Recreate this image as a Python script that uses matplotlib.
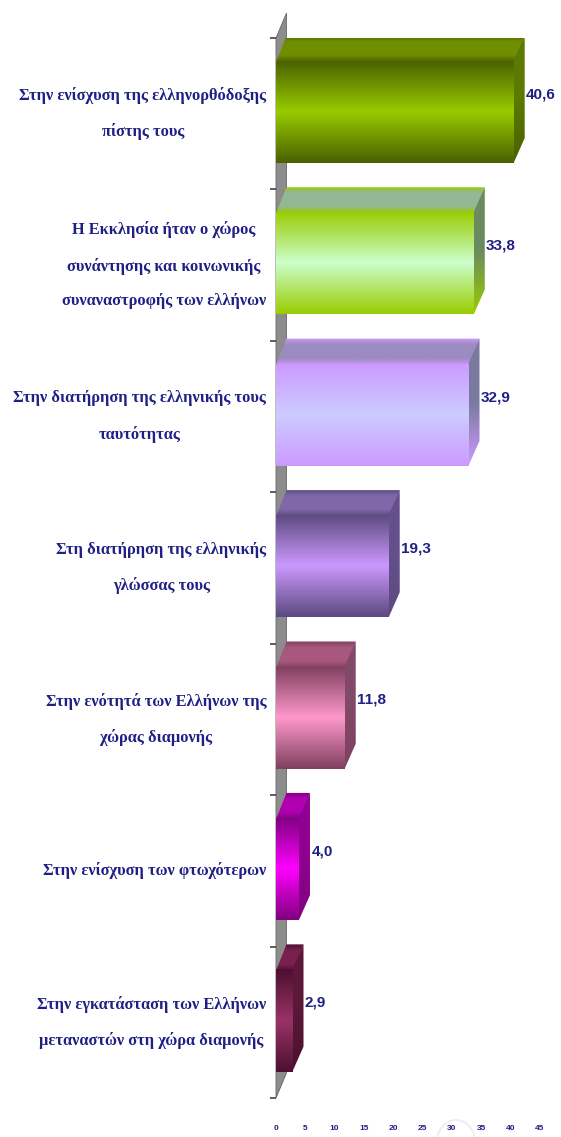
"""Οριζόντιο ψευδο-3Δ ραβδόγραμμα: ρόλος της Εκκλησίας (%)."""
import numpy as np
import matplotlib
matplotlib.use("Agg")
import matplotlib.pyplot as plt
from matplotlib.colors import LinearSegmentedColormap
from matplotlib.patches import Polygon, Arc

plt.rcParams["font.family"] = ["Liberation Serif", "DejaVu Serif"]

labels = [
    "Στην ενίσχυση της ελληνορθόδοξης\nπίστης τους",
    "Η Εκκλησία ήταν ο χώρος\nσυνάντησης και κοινωνικής\nσυναναστροφής των ελλήνων",
    "Στην διατήρηση της ελληνικής τους\nταυτότητας",
    "Στη διατήρηση της ελληνικής\nγλώσσας τους",
    "Στην ενότητά των Ελλήνων της\nχώρας διαμονής",
    "Στην ενίσχυση των φτωχότερων",
    "Στην εγκατάσταση των Ελλήνων\nμεταναστών στη χώρα διαμονής",
]
values = [40.6, 33.8, 32.9, 19.3, 11.8, 4.0, 2.9]
value_labels = ["40,6", "33,8", "32,9", "19,3", "11,8", "4,0", "2,9"]
x_ticks = [0, 5, 10, 15, 20, 25, 30, 35, 40, 45]

# χρώματα: άκρη, κέντρο (μπροστινή όψη), πάνω όψη, πλαϊνή όψη
edge_cols = ["#4a6000", "#99cc00", "#cc99ff", "#5c4a80", "#80405f", "#800080", "#4d1030"]
mid_cols = ["#99cc00", "#ccffcc", "#ccccff", "#cc99ff", "#ff99cc", "#ff00ff", "#993366"]
top_cols = ["#6f8f00", "#94b894", "#9b8bc0", "#8068a8", "#a8587f", "#b000b0", "#7a2050"]
side_cols = ["#5c7a00", "#6b8a60", "#7a7a9f", "#64508c", "#804a68", "#900090", "#5c1838"]

W, H = 561, 1137
NAVY = "#1f1f85"
SANS = ["Liberation Sans", "DejaVu Sans"]

fig = plt.figure(figsize=(W / 100, H / 100), dpi=100, facecolor="white")
ax = fig.add_axes([276 / W, 1 - 1098 / H, (540 - 276) / W, (1098 - 38) / H])
ax.set_facecolor("none")
for s in ax.spines.values():
    s.set_visible(False)

DX = 10.5 / (264 / 45)   # βάθος σε μονάδες x
DY = 25 / (1060 / 7)     # βάθος σε μονάδες κατηγορίας
BAR_H = 0.675
OFF = -0.012
SEAM = 0.008             # να μη φαίνεται λευκή ραφή ανάμεσα στις όψεις


def shaded(poly, extent, cols, z):
    cmap = LinearSegmentedColormap.from_list("f", cols)
    grad = np.linspace(0, 1, 128).reshape(-1, 1)
    im = ax.imshow(grad, cmap=cmap, extent=extent, origin="upper", aspect="auto",
                   zorder=z, interpolation="bilinear")
    patch = Polygon(poly, closed=True, transform=ax.transData, fc="none", ec="none")
    ax.add_patch(patch)
    im.set_clip_path(patch)


# τοίχος
ax.add_patch(Polygon([(0, 0), (DX, -DY), (DX, 7 - DY), (0, 7)], closed=True,
                     fc="#8c8c8c", ec="#666666", lw=0.6, zorder=1, clip_on=False))

for i, v in enumerate(values):
    c = i + 0.5 + OFF
    y0, y1 = c - BAR_H / 2, c + BAR_H / 2
    e, m, t, sd = edge_cols[i], mid_cols[i], top_cols[i], side_cols[i]
    shaded([(0, y0 + SEAM), (DX, y0 - DY), (v + DX, y0 - DY), (v + 0.1, y0 + SEAM)],
           (0, v + DX, y0 + SEAM, y0 - DY), [e, t, t, t, e], 3)
    shaded([(v - 0.1, y0), (v + DX, y0 - DY), (v + DX, y1 - DY), (v - 0.1, y1)],
           (v - 0.1, v + DX, y1, y0 - DY), [sd, sd, e], 3)
    shaded([(0, y0), (v, y0), (v, y1), (0, y1)],
           (0, v, y1, y0), [e, m, e], 4)
    ax.annotate(value_labels[i], (v + DX, i + 0.5), xytext=(1, 14), textcoords="offset points",
                ha="left", va="center", color=NAVY, fontsize=11, fontweight="bold",
                family=SANS, zorder=5)

ax.set_xlim(0, 45)
ax.set_ylim(7, 0)

# γραμμές κατηγοριών
ax.set_yticks(range(8))
ax.set_yticklabels([])
ax.tick_params(axis="y", which="major", length=4.5, width=1.1, color="#333333", left=True)
ax.set_yticks(np.arange(7) + 0.5, minor=True)
ax.set_yticklabels(labels, minor=True)
ax.tick_params(axis="y", which="minor", length=0, pad=7)
for lab in ax.get_yticklabels(minor=True):
    lab.set_multialignment("center")
    lab.set_verticalalignment("center")
    lab.set_linespacing(2.5)
    lab.set_color(NAVY)
    lab.set_fontweight("bold")
    lab.set_fontsize(11.8)

ax.set_xticks(x_ticks)
ax.set_xticklabels([str(t) for t in x_ticks], fontsize=6, fontweight="bold", color=NAVY, family=SANS)
ax.tick_params(axis="x", length=0, pad=19.5)

# αχνό τόξο κάτω δεξιά (υδατογράφημα της πηγής)
bg = fig.add_axes([0, 0, 1, 1], zorder=-1)
bg.set_xlim(0, W)
bg.set_ylim(H, 0)
bg.axis("off")
bg.add_patch(Arc((456, 1145), 40, 50, theta1=180, theta2=360, color="#eeeef5", lw=1.5))

fig.savefig("out.png", dpi=100)
